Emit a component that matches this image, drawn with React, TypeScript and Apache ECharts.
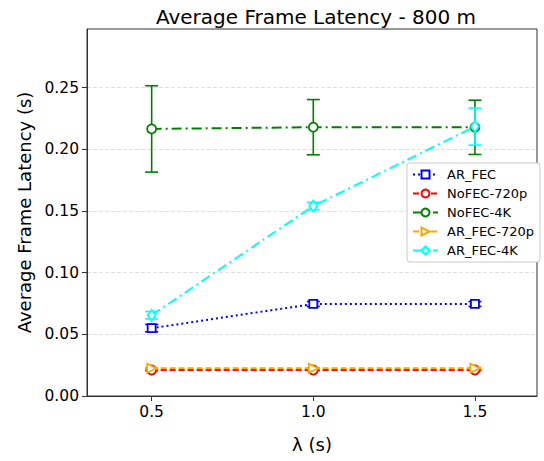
import React, { useEffect, useRef } from "react";
import * as echarts from "echarts";

const xValues = [0.5, 1.0, 1.5];
const xTicks = [0.5, 1.0, 1.5];
const yTicks = [0, 0.05, 0.1, 0.15, 0.2, 0.25];

const arFec = [0.055, 0.0746, 0.0746];
const arFecErr = [0.003, 0.002, 0.002];
const noFec720 = [0.0211, 0.0211, 0.0211];
const noFec720Err = [0.0005, 0.0005, 0.0005];
const noFec4k = [0.2165, 0.2179, 0.2178];
const noFec4kErr = [0.035, 0.0224, 0.022];
const arFec720 = [0.0225, 0.0225, 0.0225];
const arFec720Err = [0.0005, 0.0005, 0.0005];
const arFec4k = [0.0655, 0.154, 0.2184];
const arFec4kErr = [0.003, 0.003, 0.015];

const seriesDefs = [
  { name: "AR_FEC", values: arFec, err: arFecErr, color: "#0000ff", symbol: "rect", size: 8, rotate: 0, dash: [2, 3] },
  { name: "NoFEC-720p", values: noFec720, err: noFec720Err, color: "#ff0000", symbol: "circle", size: 9, rotate: 0, dash: [6, 3] },
  { name: "NoFEC-4K", values: noFec4k, err: noFec4kErr, color: "#008000", symbol: "circle", size: 9, rotate: 0, dash: [10, 4, 2, 4] },
  { name: "AR_FEC-720p", values: arFec720, err: arFec720Err, color: "#ffa500", symbol: "triangle", size: 9, rotate: -90, dash: [6, 3] },
  { name: "AR_FEC-4K", values: arFec4k, err: arFec4kErr, color: "#00ffff", symbol: "diamond", size: [8, 11], rotate: 0, dash: [10, 4, 2, 4] },
];

const FONT = "DejaVu Sans";

export default function App() {
  const ref = useRef<HTMLDivElement>(null);
  useEffect(() => {
    if (!ref.current) return;
    const chart = echarts.init(ref.current, null, { renderer: "svg" });
    const series: any[] = [];
    seriesDefs.forEach((s, i) => {
      series.push({
        name: s.name,
        type: "line",
        data: xValues.map((x, j) => [x, s.values[j]]),
        symbol: s.symbol,
        symbolSize: s.size,
        symbolRotate: s.rotate,
        showAllSymbol: true,
        z: 10 + i * 2 + 1,
        lineStyle: { color: s.color, width: 2, type: s.dash },
        itemStyle: { color: "#ffffff", borderColor: s.color, borderWidth: 1.8 },
        emphasis: { disabled: true },
      });
      series.push({
        name: s.name + "-err",
        type: "custom",
        z: 10 + i * 2,
        data: xValues.map((x, j) => [x, s.values[j] - s.err[j], s.values[j] + s.err[j]]),
        encode: { x: 0, y: [1, 2] },
        renderItem: (params: any, api: any) => {
          const x = api.value(0);
          const lo = api.coord([x, api.value(1)]);
          const hi = api.coord([x, api.value(2)]);
          const cap = 6.5;
          const st = { stroke: s.color, lineWidth: 1.6 };
          return {
            type: "group",
            children: [
              { type: "line", shape: { x1: lo[0], y1: lo[1], x2: hi[0], y2: hi[1] }, style: st },
              { type: "line", shape: { x1: lo[0] - cap, y1: lo[1], x2: lo[0] + cap, y2: lo[1] }, style: st },
              { type: "line", shape: { x1: hi[0] - cap, y1: hi[1], x2: hi[0] + cap, y2: hi[1] }, style: st },
            ],
          };
        },
      });
    });

    chart.setOption({
      animation: false,
      backgroundColor: "#ffffff",
      title: {
        text: "Average Frame Latency - 800 m",
        left: 311,
        top: 2,
        textAlign: "center",
        textStyle: { fontFamily: FONT, fontSize: 20, fontWeight: "normal", color: "#000" },
      },
      grid: {
        left: 87,
        top: 29,
        right: 7,
        bottom: 65,
        show: true,
        borderColor: "#333",
        borderWidth: 1,
        backgroundColor: "transparent",
      },
      legend: {
        data: seriesDefs.map((s) => s.name),
        orient: "vertical",
        left: 407,
        top: 163,
        itemWidth: 25,
        itemHeight: 10,
        itemGap: 6,
        padding: [5, 6, 5, 5],
        backgroundColor: "#ffffff",
        borderColor: "#cccccc",
        borderWidth: 1,
        borderRadius: 3,
        textStyle: { fontFamily: FONT, fontSize: 13, color: "#000", padding: [0, 0, 0, 4] },
        selectedMode: false,
      },
      xAxis: {
        type: "value",
        min: 0.3,
        max: 1.692,
        name: "λ (s)",
        nameLocation: "middle",
        nameGap: 39,
        nameTextStyle: { fontFamily: FONT, fontSize: 18, color: "#000" },
        axisLine: { show: true, lineStyle: { color: "#333", width: 1 } },
        axisTick: { show: true, inside: false, length: 5, customValues: xTicks, lineStyle: { color: "#333" } },
        axisLabel: {
          customValues: xTicks,
          formatter: (v: number) => v.toFixed(1),
          fontFamily: FONT,
          fontSize: 15.5,
          color: "#000",
          margin: 8,
        },
        splitLine: { show: false },
      },
      yAxis: {
        type: "value",
        min: 0,
        max: 0.2975,
        name: "Average Frame Latency (s)",
        nameLocation: "middle",
        nameGap: 54,
        nameTextStyle: { fontFamily: FONT, fontSize: 18, color: "#000" },
        axisLine: { show: true, lineStyle: { color: "#333", width: 1 } },
        axisTick: { show: true, length: 5, customValues: yTicks, lineStyle: { color: "#333" } },
        axisLabel: {
          customValues: yTicks,
          formatter: (v: number) => v.toFixed(2),
          fontFamily: FONT,
          fontSize: 15.5,
          color: "#000",
          margin: 8,
        },
        splitLine: { show: true, lineStyle: { color: "#e0e0e0", type: [4, 2], width: 1 } },
      },
      series,
    });
    return () => chart.dispose();
  }, []);
  return <div ref={ref} style={{ position: "absolute", left: 0, top: 0, width: 544, height: 461 }} />;
}
